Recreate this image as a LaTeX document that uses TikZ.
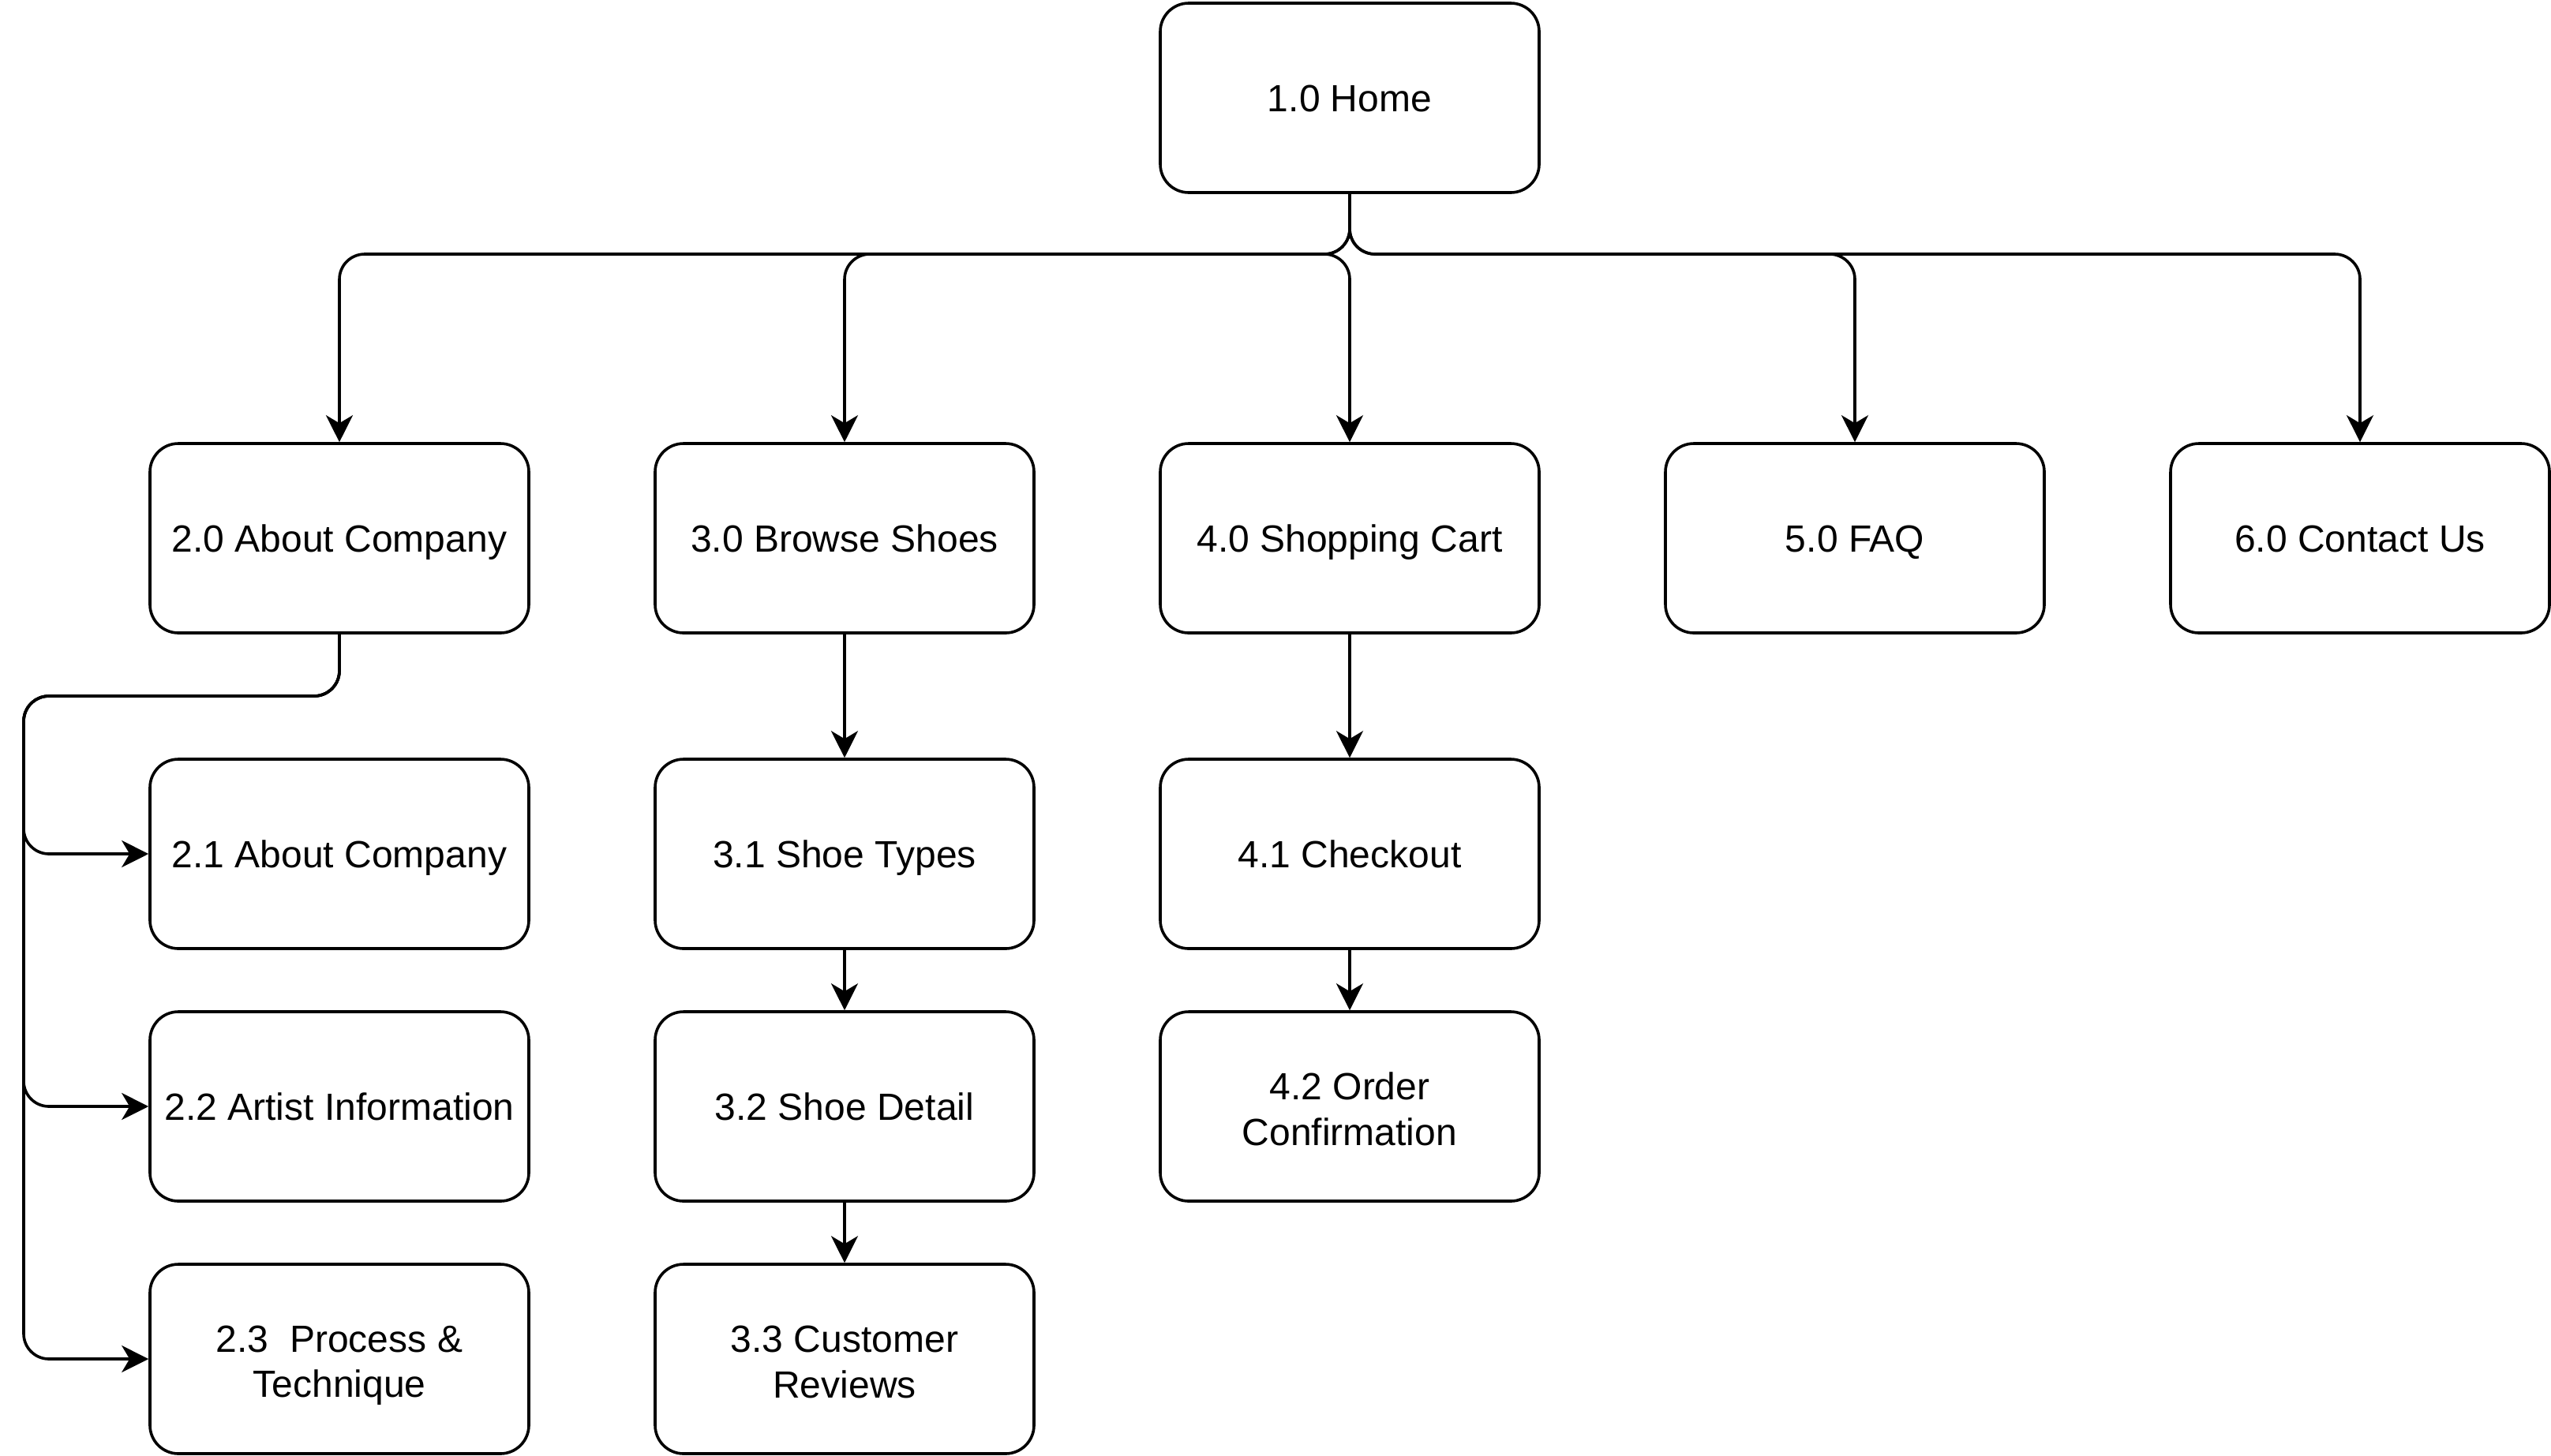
\documentclass[tikz,border=0pt]{standalone}
\usepackage{fontspec}
\setmainfont{Liberation Sans}
\usetikzlibrary{arrows.meta}
\newcommand\mystrut{\rule[-2.4pt]{0pt}{13.4pt}}
\newcommand\mytopstrut{\rule{0pt}{12.5pt}}
\begin{document}
\begin{tikzpicture}[x=1pt,y=-1pt,
  box/.style={draw,line width=0.9pt,rounded corners=9pt,minimum width=120pt,minimum height=60pt,inner sep=0pt,align=center,font=\fontsize{12}{14.4}\selectfont,execute at begin node=\mystrut},
  conn/.style={line width=0.9pt,rounded corners=8pt,-{Stealth[length=8.5pt,width=8.5pt,inset=2.5pt]}}]
\useasboundingbox (0,0) rectangle (808,461);
\node[box] (home) at (427.5,31) {1.0 Home};
\node[box] (b2) at (107.5,170.5) {2.0 About Company};
\node[box] (b3) at (267.5,170.5) {3.0 Browse Shoes};
\node[box] (b4) at (427.5,170.5) {4.0 Shopping Cart};
\node[box] (b5) at (587.5,170.5) {5.0 FAQ};
\node[box] (b6) at (747.5,170.5) {6.0 Contact Us};
\node[box] (c21) at (107.5,270.5) {2.1 About Company};
\node[box] (c22) at (107.5,350.5) {2.2 Artist Information};
\node[box] (c23) at (107.5,430.5) {\mytopstrut 2.3\ \ Process \&\\\mystrut Technique};
\node[box] (c31) at (267.5,270.5) {3.1 Shoe Types};
\node[box] (c32) at (267.5,350.5) {3.2 Shoe Detail};
\node[box] (c33) at (267.5,430.5) {\mytopstrut 3.3 Customer\\\mystrut Reviews};
\node[box] (c41) at (427.5,270.5) {4.1 Checkout};
\node[box] (c42) at (427.5,350.5) {\mytopstrut 4.2 Order\\\mystrut Confirmation};
\coordinate (bus) at (0,80.5);
\coordinate (j4) at (409,80.5);
\coordinate (rail) at (7.5,220.5);
\draw[conn] (home.south) -- (home.south |- bus) -| (b2.north);
\draw[conn] (home.south) -- (home.south |- bus) -| (b3.north);
\draw[conn] (home.south) -- (home.south |- bus) -| (b5.north);
\draw[conn] (home.south) -- (home.south |- bus) -| (b6.north);
\draw[conn] (j4) -| (b4.north);
\draw[conn] (b2.south) |- (rail) |- (c21.west);
\draw[conn] (b2.south) |- (rail) |- (c22.west);
\draw[conn] (b2.south) |- (rail) |- (c23.west);
\draw[conn] (b3.south) -- (c31.north);
\draw[conn] (c31.south) -- (c32.north);
\draw[conn] (c32.south) -- (c33.north);
\draw[conn] (b4.south) -- (c41.north);
\draw[conn] (c41.south) -- (c42.north);
\end{tikzpicture}
\end{document}
